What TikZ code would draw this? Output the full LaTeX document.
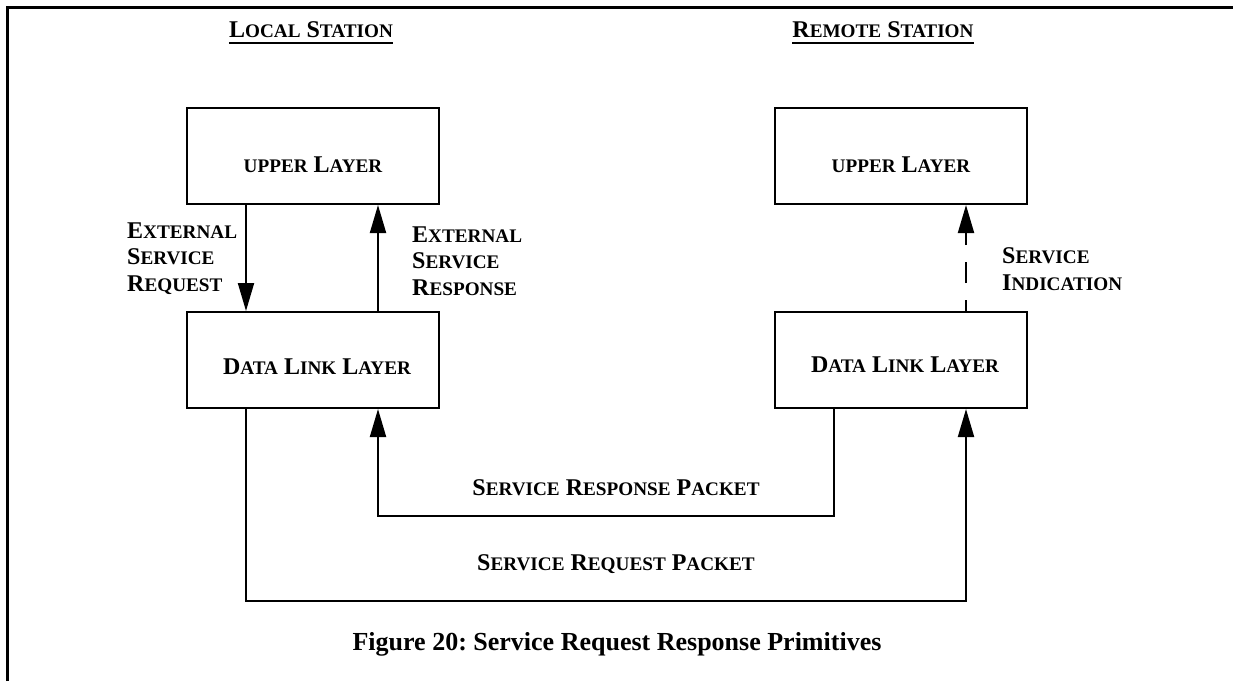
\documentclass[tikz,border=0pt]{standalone}
\usepackage{fontspec}
\setmainfont{Liberation Serif}
\newfontfamily\scletters[Scale=0.8]{Liberation Serif}
\usetikzlibrary{arrows.meta}
\frenchspacing
% small-caps word: full-size initial, reduced capitals after it
\newcommand\scw[2]{#1{\scletters\bfseries #2}}
\begin{document}
\begin{tikzpicture}[x=1pt,y=-1pt,
  txt/.style={font=\fontsize{24}{26.5}\selectfont\bfseries, inner sep=0pt},
  layerbox/.style={draw, line width=2pt, minimum width=252pt, minimum height=96pt,
    inner sep=0pt, txt},
  lbl/.style={txt, align=left, anchor=base west},
  conn/.style={line width=2pt},
  arr/.style={conn, -{Triangle[length=28pt,width=16pt]}},
  dasharr/.style={arr, dash pattern=on 21pt off 17pt, dash phase=10pt},
  uline/.style={line width=2pt}]
\useasboundingbox (0,0) rectangle (1233,681);

% outer frame (top and left edges)
\draw[line width=3pt] (7,681) -- (7,7) -- (1233,7);

% station headings
\node[txt, anchor=base] (hl) at (311,37) {\scw{L}{OCAL} \scw{S}{TATION}};
\node[txt, anchor=base] (hr) at (883,37) {\scw{R}{EMOTE} \scw{S}{TATION}};
\draw[uline] ([yshift=-6pt]hl.base west) -- ([yshift=-6pt]hl.base east);
\draw[uline] ([yshift=-6pt]hr.base west) -- ([yshift=-6pt]hr.base east);

% layer boxes
\node[layerbox, anchor=north west, text height=64pt, text depth=32pt] (lu) at (186,107)
  {{\scletters\bfseries UPPER} \scw{L}{AYER}};
\node[layerbox, anchor=north west, text height=62pt, text depth=34pt] (ld) at (186,311)
  {\hspace*{8pt}\scw{D}{ATA} \scw{L}{INK} \scw{L}{AYER}};
\node[layerbox, anchor=north west, text height=64pt, text depth=32pt] (ru) at (774,107)
  {{\scletters\bfseries UPPER} \scw{L}{AYER}};
\node[layerbox, anchor=north west, text height=60pt, text depth=36pt] (rd) at (774,311)
  {\hspace*{8pt}\scw{D}{ATA} \scw{L}{INK} \scw{L}{AYER}};

% primitives between upper layer and data link layer
\draw[arr] ([xshift=60pt]lu.south west) -- ([xshift=60pt]ld.north west);
\draw[arr] ([xshift=192pt]ld.north west) -- ([xshift=192pt]lu.south west);
\draw[dasharr] ([xshift=192pt]rd.north west) -- ([xshift=192pt]ru.south west);

% (base of a multi-line label is the baseline of its last line)
\node[lbl] (ereq) at (127,291) {\scw{E}{XTERNAL}\\\scw{S}{ERVICE}\\\scw{R}{EQUEST}};
\node[lbl] (eresp) at (412,295) {\scw{E}{XTERNAL}\\\scw{S}{ERVICE}\\\scw{R}{ESPONSE}};
\node[lbl] (sind) at (1002,290) {\scw{S}{ERVICE}\\\scw{I}{NDICATION}};

% packets exchanged between the stations
\draw[arr] ([xshift=60pt]rd.south west) -- ++(0,107) -| ([xshift=192pt]ld.south west);
\draw[arr] ([xshift=60pt]ld.south west) -- ++(0,192) -| ([xshift=192pt]rd.south west);

\node[txt, anchor=base] (resp) at (616,495) {\scw{S}{ERVICE} \scw{R}{ESPONSE} \scw{P}{ACKET}};
\node[txt, anchor=base] (req) at (616,570) {\scw{S}{ERVICE} \scw{R}{EQUEST} \scw{P}{ACKET}};

% caption
\node[anchor=base, inner sep=0pt, font=\fontsize{26}{28}\selectfont\bfseries] (cap)
  at (617,650) {Figure 20: Service Request Response Primitives};
\end{tikzpicture}
\end{document}
